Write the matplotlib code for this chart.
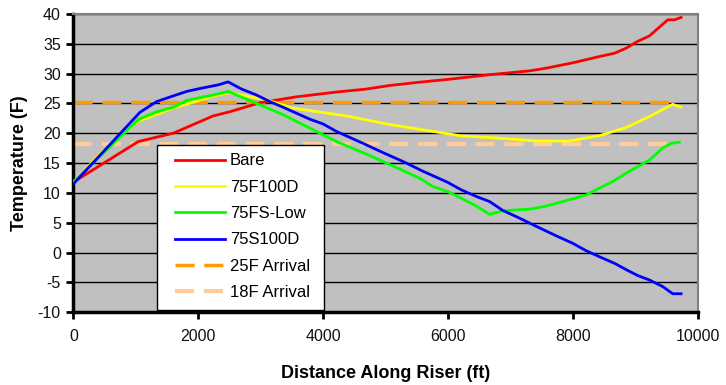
import matplotlib
matplotlib.use("Agg")
import matplotlib.pyplot as plt
from matplotlib.patches import Rectangle

plt.rcParams['font.family'] = ['Liberation Sans', 'DejaVu Sans']
plt.rcParams['axes.unicode_minus'] = False

bare_x = [0, 1040, 1600, 2240, 2507, 2987, 3574, 4214, 4694, 5067, 5500, 6027, 6667, 7307,
          7574, 8000, 8427, 8667, 8854, 9040, 9227, 9520, 9627, 9734]
bare_y = [11.8, 18.6, 20.0, 22.9, 23.6, 25.1, 26.1, 26.9, 27.4, 28.0, 28.5, 29.05, 29.8, 30.45,
          30.9, 31.8, 32.85, 33.4, 34.25, 35.4, 36.3, 39.0, 39.0, 39.4]

f100_x = [0, 587, 1040, 1600, 2240, 2480, 3094, 3520, 4427, 5040, 5760, 6214, 6774, 7414,
          7947, 8427, 8854, 9227, 9600, 9734]
f100_y = [11.8, 18.2, 22.0, 24.2, 26.2, 26.8, 25.6, 24.2, 22.8, 21.5, 20.3, 19.55, 19.2, 18.7,
          18.7, 19.6, 20.95, 22.8, 24.85, 24.35]

fslow_x = [0, 1040, 1334, 1600, 1814, 2240, 2480, 2934, 3360, 3787, 4214, 4694, 5120, 5547,
           5760, 6000, 6214, 6454, 6667, 6880, 7334, 7574, 8000, 8214, 8427, 8640, 8854,
           9040, 9227, 9440, 9574, 9707]
fslow_y = [11.8, 22.3, 23.6, 24.35, 25.5, 26.4, 27.0, 25.0, 23.1, 20.85, 18.6, 16.5, 14.5, 12.45,
           11.05, 10.2, 9.1, 7.8, 6.4, 7.0, 7.3, 7.8, 9.0, 9.65, 10.8, 11.9, 13.3,
           14.4, 15.5, 17.5, 18.3, 18.5]

s100_x = [0, 1067, 1334, 1600, 1814, 2054, 2320, 2480, 2694, 2934, 3147, 3360, 3574, 3787,
          4000, 4214, 4427, 4640, 4907, 5334, 5574, 5787, 6000, 6214, 6454, 6667, 6880,
          7120, 7334, 7574, 7787, 8000, 8214, 8427, 8667, 8880, 9040, 9227, 9440, 9600, 9734]
s100_y = [11.5, 23.5, 25.3, 26.25, 27.0, 27.55, 28.1, 28.6, 27.4, 26.4, 25.3, 24.35, 23.35, 22.35,
          21.55, 20.3, 19.3, 18.3, 17.0, 15.0, 13.75, 12.75, 11.75, 10.5, 9.4, 8.55, 7.05,
          5.9, 4.8, 3.6, 2.55, 1.55, 0.3, -0.7, -1.8, -3.0, -3.85, -4.6, -5.7, -6.9, -6.9]

arr_x = [0, 9600]
arr25_y = [25.3, 25.3]
arr18_y = [18.2, 18.2]

xticks = [0, 2000, 4000, 6000, 8000, 10000]
yticks = [-10, -5, 0, 5, 10, 15, 20, 25, 30, 35, 40]

fig = plt.figure(figsize=(7.26, 3.85), dpi=100)
ax = fig.add_axes([0.101, 0.189, 0.860, 0.775])
ax.set_facecolor('#C0C0C0')

for t in yticks:
    ax.axhline(t, color='black', lw=1.0, zorder=1)

ax.plot(bare_x, bare_y, color='#FF0000', lw=2.0, label='Bare', zorder=3)
ax.plot(f100_x, f100_y, color='#FFFF00', lw=2.0, label='75F100D', zorder=3)
ax.plot(fslow_x, fslow_y, color='#00FF00', lw=2.0, label='75FS-Low', zorder=3)
ax.plot(s100_x, s100_y, color='#0000FF', lw=2.0, label='75S100D', zorder=3)
ax.plot(arr_x, arr25_y, color='#FF9900', lw=2.5, dashes=(5.5, 2.8), label='25F Arrival', zorder=2)
ax.plot(arr_x, arr18_y, color='#FFCC99', lw=3.0, dashes=(4.6, 2.3), label='18F Arrival', zorder=2)

ax.set_xlim(0, 10000)
ax.set_ylim(-10, 40)
ax.set_xticks(xticks)
ax.set_yticks(yticks)
ax.tick_params(axis='both', direction='out', length=5, width=2, color='black',
               labelsize=11.5, pad=4, labelcolor='#111111')
ax.tick_params(axis='x', pad=7)

for s in ['top', 'right']:
    ax.spines[s].set_color('#808080')
    ax.spines[s].set_linewidth(1.5)
for s in ['left', 'bottom']:
    ax.spines[s].set_color('black')
    ax.spines[s].set_linewidth(2.5)

ax.set_xlabel('Distance Along Riser (ft)', fontsize=13, fontweight='bold', labelpad=15)
ax.set_ylabel('Temperature (F)', fontsize=13, fontweight='bold', labelpad=7)

box = Rectangle((0.1336, 0.0077), 0.268, 0.553, transform=ax.transAxes,
                facecolor='white', edgecolor='black', lw=1.0, zorder=4)
ax.add_patch(box)

leg = ax.legend(loc='upper left', bbox_to_anchor=(0.163, 0.532),
                frameon=False, fontsize=12, handlelength=3.0, borderpad=0,
                labelspacing=0.68, handletextpad=0.3, borderaxespad=0)
leg.set_zorder(5)

fig.savefig('out.png', dpi=100)
